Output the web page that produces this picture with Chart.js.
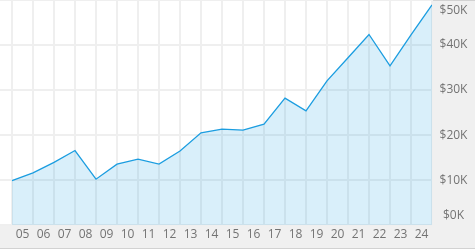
<!DOCTYPE html>
<html>
<head>
<meta charset="utf-8">
<script src="https://cdn.jsdelivr.net/npm/chart.js@4/dist/chart.umd.min.js"></script>
<style>
  html, body { margin: 0; padding: 0; background: #fff; }
  #wrap { width: 475px; height: 250px; }
</style>
</head>
<body>
<div id="wrap"><canvas id="salesChart" width="475" height="250"></canvas></div>
<script>
// day labels sit between points, one per interval
const dayLabels = ['05', '06', '07', '08', '09', '10', '11', '12', '13', '14',
    '15', '16', '17', '18', '19', '20', '21', '22', '23', '24'];
const totals = [10100, 11800, 14100, 16700, 10400, 13700, 14800, 13700, 16600, 20600,
    21400, 21200, 22500, 28200, 25400, 32000, 37100, 42200, 35300, 42100, 48700];
const yTickValues = [0, 10000, 20000, 30000, 40000, 50000];
const yTickLabels = ['$0K', '$10K', '$20K', '$30K', '$40K', '$50K'];

const panelGray = '#f0f0f0';
const textGray = '#737373';

const panelPlugin = {
    id: 'panels',
    beforeDraw: function (chart) {
        const ctx = chart.ctx;
        const a = chart.chartArea;
        ctx.save();
        ctx.fillStyle = panelGray;
        ctx.fillRect(0, 0, chart.width, chart.height);
        ctx.fillStyle = '#ffffff';
        ctx.fillRect(a.left, a.top, a.right - a.left, a.bottom - a.top);
        ctx.fillRect(0, 249, chart.width, 1);
        ctx.fillStyle = '#d2d2d2';
        ctx.fillRect(0, 0, chart.width, 1);
        ctx.fillRect(0, 248, chart.width, 1);
        ctx.restore();
    },
    afterDraw: function (chart) {
        // y labels, kept inside the plot height
        const ctx = chart.ctx;
        const y = chart.scales.y;
        ctx.save();
        ctx.font = '12px "Open Sans", sans-serif';
        ctx.fillStyle = textGray;
        ctx.textAlign = 'center';
        ctx.textBaseline = 'middle';
        yTickValues.forEach(function (v, i) {
            let py = y.getPixelForValue(v);
            py = Math.min(Math.max(py, 11), 216);
            ctx.fillText(yTickLabels[i], 453.5, py);
        });
        ctx.restore();
    }
};

const ctx = document.getElementById('salesChart').getContext('2d');
new Chart(ctx, {
    type: 'line',
    data: {
        datasets: [{
            data: totals.map(function (v, i) { return { x: i, y: v }; }),
            borderColor: '#1b9de0',
            borderWidth: 1.3,
            backgroundColor: 'rgba(30, 160, 225, 0.17)',
            fill: 'start',
            pointRadius: 0,
            tension: 0
        }]
    },
    options: {
        responsive: false,
        animation: false,
        layout: { padding: 0 },
        plugins: {
            legend: { display: false },
            tooltip: { enabled: false }
        },
        scales: {
            x: {
                type: 'linear',
                min: -12 / 21,
                max: dayLabels.length,
                border: { display: false },
                grid: { color: '#efefef', lineWidth: 2, drawTicks: false },
                afterFit: function (scale) { scale.height = 25; },
                ticks: {
                    stepSize: 1,
                    includeBounds: false,
                    autoSkip: false,
                    maxRotation: 0,
                    padding: 2,
                    labelOffset: 10.5,
                    color: textGray,
                    font: { family: '"Open Sans", sans-serif', size: 12 },
                    callback: function (v) {
                        return dayLabels[v] !== undefined ? dayLabels[v] : '';
                    }
                }
            },
            y: {
                position: 'right',
                min: 330,
                max: 49780,
                border: { display: false },
                grid: { color: '#efefef', lineWidth: 2, drawTicks: false },
                afterFit: function (scale) { scale.width = 43; },
                ticks: {
                    display: false,
                    stepSize: 10000,
                    includeBounds: false
                }
            }
        }
    },
    plugins: [panelPlugin]
});
</script>
</body>
</html>
